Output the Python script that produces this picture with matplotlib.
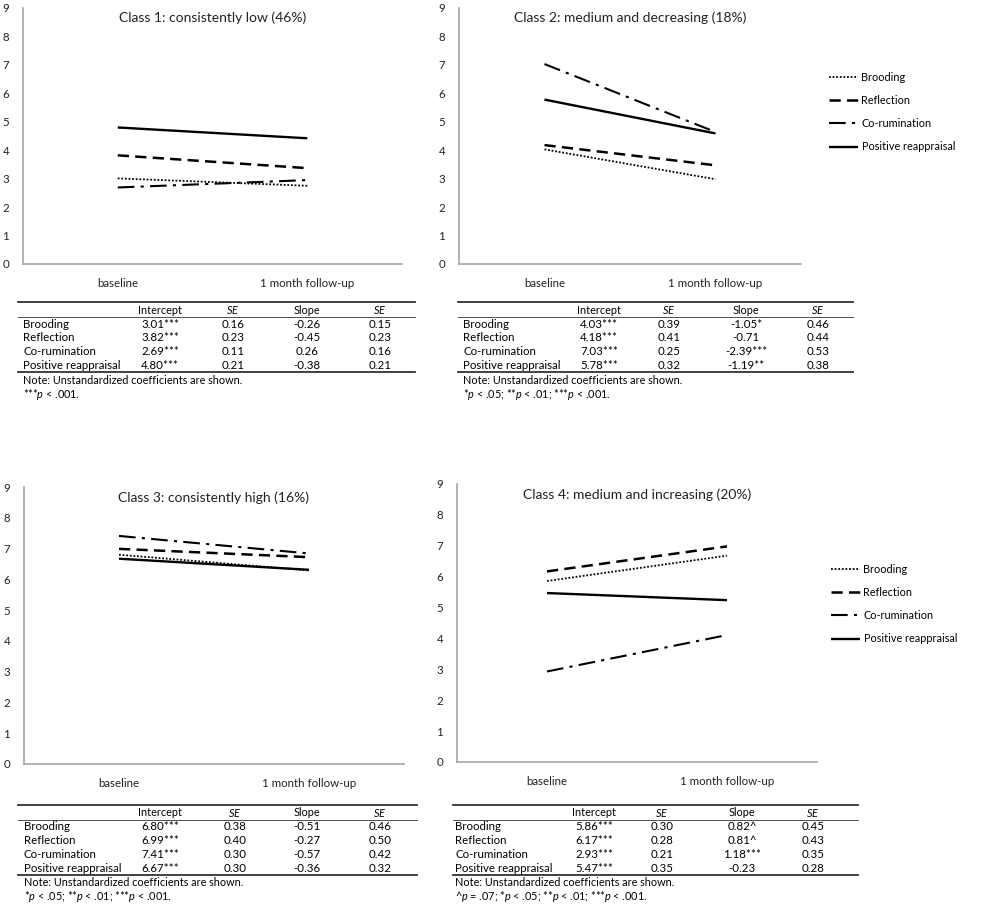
import matplotlib
matplotlib.use("Agg")
import matplotlib.pyplot as plt
from matplotlib.lines import Line2D

plt.rcParams['font.family'] = ['Lato', 'DejaVu Sans']
plt.rcParams['mathtext.fontset'] = 'custom'
plt.rcParams['mathtext.rm'] = 'Lato'
plt.rcParams['mathtext.it'] = 'Lato:italic'

# ---- data ----
measures = ["Brooding", "Reflection", "Co-rumination", "Positive reappraisal"]
timepoints = ["baseline", "1 month follow-up"]
titles = ["Class 1: consistently low (46%)",
          "Class 2: medium and decreasing (18%)",
          "Class 3: consistently high (16%)",
          "Class 4: medium and increasing (20%)"]

# values at baseline / follow-up per class (order as in measures)
base_c1 = [3.01, 3.82, 2.69, 4.80]
follow_c1 = [2.75, 3.37, 2.95, 4.42]
base_c2 = [4.03, 4.18, 7.03, 5.78]
follow_c2 = [2.98, 3.47, 4.64, 4.59]
base_c3 = [6.80, 6.99, 7.41, 6.67]
follow_c3 = [6.29, 6.72, 6.84, 6.31]
base_c4 = [5.86, 6.17, 2.93, 5.47]
follow_c4 = [6.68, 6.98, 4.11, 5.24]

# table cells
icpt_c1 = ["3.01***", "3.82***", "2.69***", "4.80***"]
se1_c1 = ["0.16", "0.23", "0.11", "0.21"]
slope_c1 = ["-0.26", "-0.45", "0.26", "-0.38"]
se2_c1 = ["0.15", "0.23", "0.16", "0.21"]
foot_c1 = "***$p$ < .001."

icpt_c2 = ["4.03***", "4.18***", "7.03***", "5.78***"]
se1_c2 = ["0.39", "0.41", "0.25", "0.32"]
slope_c2 = ["-1.05*", "-0.71", "-2.39***", "-1.19**"]
se2_c2 = ["0.46", "0.44", "0.53", "0.38"]
foot_c2 = "*$p$ < .05; **$p$ < .01; ***$p$ < .001."

icpt_c3 = ["6.80***", "6.99***", "7.41***", "6.67***"]
se1_c3 = ["0.38", "0.40", "0.30", "0.30"]
slope_c3 = ["-0.51", "-0.27", "-0.57", "-0.36"]
se2_c3 = ["0.46", "0.50", "0.42", "0.32"]
foot_c3 = "*$p$ < .05; **$p$ < .01; ***$p$ < .001."

icpt_c4 = ["5.86***", "6.17***", "2.93***", "5.47***"]
se1_c4 = ["0.30", "0.28", "0.21", "0.35"]
slope_c4 = ["0.82^", "0.81^", "1.18***", "-0.23"]
se2_c4 = ["0.45", "0.43", "0.35", "0.28"]
foot_c4 = "^$p$ = .07; *$p$ < .05; **$p$ < .01; ***$p$ < .001."

note = "Note: Unstandardized coefficients are shown."
headers = ["Intercept", "$SE$", "Slope", "$SE$"]

styles = [dict(ls=(0, (1, 1)), lw=1.3),
          dict(ls=(0, (4.5, 2.5)), lw=1.8),
          dict(ls=(0, (8, 3, 1.5, 3)), lw=1.5),
          dict(ls='-', lw=1.7)]

W, H = 1000, 909
fig = plt.figure(figsize=(10, 9.09), dpi=100)


def px_axes(l, r, t, b):
    return fig.add_axes([l / W, 1 - b / H, (r - l) / W, (b - t) / H])


def fx(x):
    return x / W


def fy(y):
    return 1 - y / H


def draw_panel(ax, base, follow, title, legend_xy=None):
    for i, m in enumerate(measures):
        ax.plot([0, 1], [base[i], follow[i]], color='black', label=m,
                solid_capstyle='butt', dash_capstyle='butt', **styles[i])
    ax.set_xlim(-0.5, 1.5)
    ax.set_ylim(0, 9)
    ax.set_yticks(range(10))
    ax.set_xticks([0, 1])
    ax.set_xticklabels(timepoints)
    ax.tick_params(length=0, labelsize=8.3, colors='#222222')
    ax.tick_params(axis='y', pad=10)
    ax.tick_params(axis='x', pad=10)
    for s in ['top', 'right']:
        ax.spines[s].set_visible(False)
    for s in ['left', 'bottom']:
        ax.spines[s].set_color('#a6a6a6')
        ax.spines[s].set_linewidth(1.2)
    ax.text(0.5, 0.985, title, transform=ax.transAxes, ha='center', va='top',
            fontsize=10, color='#222222')
    if legend_xy is not None:
        ax.legend(loc='upper left', bbox_to_anchor=(fx(legend_xy[0]), fy(legend_xy[1])),
                  bbox_transform=fig.transFigure, frameon=False, fontsize=7.8,
                  handlelength=2.7, handletextpad=0.3, labelspacing=1.12,
                  borderpad=0, borderaxespad=0)


def draw_table(x0, x1, ytop, label_x, col_x, icpt, se1, slope, se2, foot):
    fig.add_artist(Line2D([fx(x0), fx(x1)], [fy(ytop), fy(ytop)], color='#333333', lw=1.3))
    fig.add_artist(Line2D([fx(x0), fx(x1)], [fy(ytop + 15), fy(ytop + 15)], color='#333333', lw=0.6))
    fig.add_artist(Line2D([fx(x0), fx(x1)], [fy(ytop + 70), fy(ytop + 70)], color='#333333', lw=1.3))
    for cx, h in zip(col_x, headers):
        fig.text(fx(cx), fy(ytop + 8), h, ha='center', va='center', fontsize=7.8)
    for i, m in enumerate(measures):
        yy = fy(ytop + 22 + 13.8 * i)
        fig.text(fx(label_x), yy, m, ha='left', va='center', fontsize=8.3)
        cells = [icpt[i], se1[i], slope[i], se2[i]]
        for cx, c in zip(col_x, cells):
            fig.text(fx(cx), yy, c, ha='center', va='center', fontsize=8.3)
    fig.text(fx(label_x), fy(ytop + 78), note, ha='left', va='center', fontsize=7.8)
    fig.text(fx(label_x), fy(ytop + 92), foot, ha='left', va='center', fontsize=7.8)


ax1 = px_axes(23, 402, 8, 264)
draw_panel(ax1, base_c1, follow_c1, titles[0])
ax2 = px_axes(459, 801, 8, 264)
draw_panel(ax2, base_c2, follow_c2, titles[1], legend_xy=(829, 72))
ax3 = px_axes(24, 404, 487, 764)
draw_panel(ax3, base_c3, follow_c3, titles[2])
ax4 = px_axes(457, 817, 484, 762)
draw_panel(ax4, base_c4, follow_c4, titles[3], legend_xy=(831, 564))

draw_table(18, 415, 302, 23, [160, 233, 307, 380], icpt_c1, se1_c1, slope_c1, se2_c1, foot_c1)
draw_table(458, 853, 302, 463, [599, 669, 746, 818], icpt_c2, se1_c2, slope_c2, se2_c2, foot_c2)
draw_table(18, 417, 805, 24, [160, 235, 307, 380], icpt_c3, se1_c3, slope_c3, se2_c3, foot_c3)
draw_table(453, 858, 805, 455, [594, 662, 742, 813], icpt_c4, se1_c4, slope_c4, se2_c4, foot_c4)

fig.savefig("out.png", dpi=100, facecolor='white')
